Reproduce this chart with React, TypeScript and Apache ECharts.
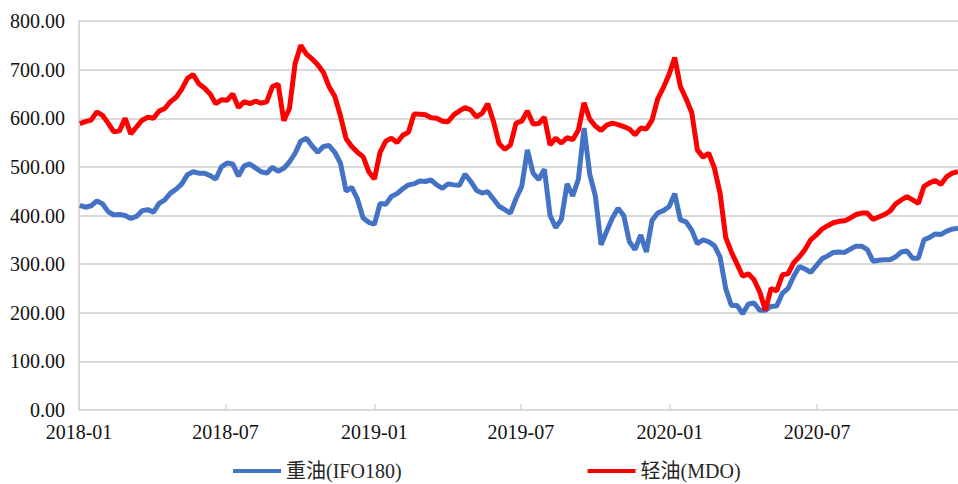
import React, { useEffect, useRef } from "react";
import * as echarts from "echarts";

// Weekly sampling grid (first observation date and step in days)
const START_DATE = [2018, 0, 2];
const STEP_DAYS = 7;
const AXIS_MIN = [2018, 0, 1];

// Tick / label months shown on the x axis
const tickMonths: [number, number][] = [
  [2018, 0], [2018, 6], [2019, 0], [2019, 6], [2020, 0], [2020, 6],
];

const yTicks = [0, 100, 200, 300, 400, 500, 600, 700, 800];

// 重油(IFO180)
const ifo180 = [
  421, 417, 420, 430, 424, 408, 401, 402, 400, 394,
  398, 410, 412, 407, 425, 432, 446, 454, 465, 484,
  490, 487, 487, 482, 475, 500, 508, 506, 481, 502,
  506, 498, 490, 487, 499, 491, 497, 510, 528, 553,
  559, 543, 530, 542, 544, 530, 508, 450, 458, 434,
  395, 386, 382, 425, 423, 439, 445, 455, 463, 465,
  471, 470, 473, 463, 456, 465, 463, 462, 485, 470,
  452, 446, 449, 434, 419, 412, 405, 435, 460, 535,
  487, 474, 495, 400, 375, 392, 465, 440, 475, 580,
  485, 440, 340, 368, 395, 415, 400, 346, 330, 360,
  325, 390, 405, 410, 418, 445, 391, 387, 370, 342,
  350, 346, 338, 315, 250, 215, 215, 198, 218, 220,
  205, 205, 213, 214, 240, 250, 275, 295, 290, 283,
  297, 311, 317, 324, 325, 324, 331, 337, 337, 330,
  306, 308, 309, 309, 315, 325, 327, 312, 312, 350,
  355, 362, 361, 368, 372, 374,
];

// 轻油(MDO)
const mdo = [
  589, 593, 596, 613, 606, 590, 572, 574, 600, 568,
  582, 596, 602, 600, 615, 620, 634, 643, 660, 682,
  690, 671, 662, 650, 630, 638, 637, 650, 622, 634,
  630, 635, 631, 634, 665, 670, 595, 620, 712, 750,
  732, 722, 710, 694, 665, 645, 605, 558, 542, 530,
  521, 490, 475, 530, 553, 559, 550, 565, 571, 609,
  608, 607, 601, 600, 594, 593, 607, 615, 622, 617,
  603, 610, 630, 594, 548, 536, 545, 590, 594, 615,
  588, 589, 602, 545, 559, 549, 560, 556, 576, 632,
  598, 584, 575, 586, 590, 587, 583, 578, 566, 580,
  578, 596, 640, 663, 690, 725, 665, 640, 612, 535,
  520, 528, 498, 446, 355, 325, 300, 275, 280, 268,
  243, 205, 250, 245, 278, 280, 303, 315, 330, 350,
  360, 372, 379, 385, 388, 389, 395, 402, 405, 405,
  392, 397, 402, 409, 424, 432, 439, 432, 425, 460,
  467, 472, 464, 480, 487, 490,
];

const seriesNames = ["重油(IFO180)", "轻油(MDO)"];

function dateAt(i: number): number {
  const d = new Date(START_DATE[0], START_DATE[1], START_DATE[2]);
  d.setDate(d.getDate() + i * STEP_DAYS);
  return d.getTime();
}

const SERIF = "'Liberation Serif', 'Times New Roman', 'Noto Sans CJK SC', serif";

export default function App() {
  const ref = useRef<HTMLDivElement>(null);
  useEffect(() => {
    document.body.style.margin = "0";
    if (!ref.current) return;
    const chart = echarts.init(ref.current, undefined, { renderer: "svg" });
    const tickValues = tickMonths.map(([y, m]) => new Date(y, m, 1).getTime());
    const minT = new Date(AXIS_MIN[0], AXIS_MIN[1], AXIS_MIN[2]).getTime();
    const maxT = dateAt(ifo180.length - 1);
    chart.setOption({
      animation: false,
      backgroundColor: "#ffffff",
      grid: { left: 79, right: 0, top: 21, bottom: 74, containLabel: false },
      legend: {
        data: seriesNames,
        left: 228,
        top: 456,
        icon: "rect",
        itemWidth: 48,
        itemHeight: 4,
        itemGap: 186,
        textStyle: { fontFamily: SERIF, fontSize: 20, color: "#262626" },
      },
      xAxis: {
        type: "value",
        min: minT,
        max: maxT,
        axisLine: { show: true, lineStyle: { color: "#d9d9d9", width: 2 } },
        axisTick: {
          show: true,
          inside: true,
          length: 6,
          customValues: tickValues,
          lineStyle: { color: "#d9d9d9", width: 1.5 },
        },
        axisLabel: {
          customValues: tickValues,
          hideOverlap: false,
          margin: 12,
          fontFamily: SERIF,
          fontSize: 20,
          color: "#111",
          formatter: (v: number) => {
            const d = new Date(v);
            const m = d.getMonth() + 1;
            return d.getFullYear() + "-" + (m < 10 ? "0" + m : "" + m);
          },
        },
        splitLine: { show: false },
      },
      yAxis: {
        type: "value",
        min: yTicks[0],
        max: yTicks[yTicks.length - 1],
        interval: 100,
        axisLine: { show: true, lineStyle: { color: "#d9d9d9", width: 2 } },
        axisTick: { show: false },
        axisLabel: {
          margin: 14,
          fontFamily: SERIF,
          fontSize: 20,
          color: "#111",
          formatter: (v: number) => v.toFixed(2),
        },
        splitLine: { show: true, lineStyle: { color: "#d9d9d9", width: 2 } },
      },
      series: [
        {
          name: seriesNames[0],
          type: "line",
          showSymbol: false,
          symbol: "none",
          lineStyle: { color: "#4472C4", width: 5 },
          itemStyle: { color: "#4472C4" },
          data: ifo180.map((v, i) => [dateAt(i), v]),
        },
        {
          name: seriesNames[1],
          type: "line",
          showSymbol: false,
          symbol: "none",
          lineStyle: { color: "#FF0000", width: 5 },
          itemStyle: { color: "#FF0000" },
          data: mdo.map((v, i) => [dateAt(i), v]),
        },
      ],
    });
    return () => chart.dispose();
  }, []);
  return <div ref={ref} style={{ width: 958, height: 484 }} />;
}
